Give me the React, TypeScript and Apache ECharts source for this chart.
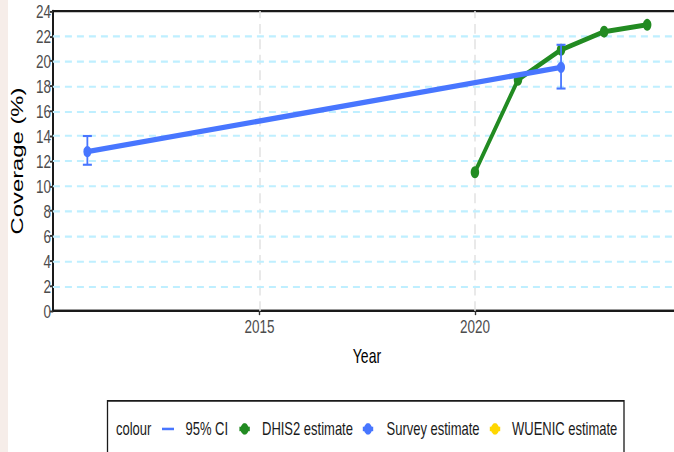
import React, { useEffect, useRef } from "react";
import * as echarts from "echarts";

// ---- data ----
const surveyYears = [2011, 2022];
const surveyValues = [12.75, 19.5];
const surveyLow = [11.7, 17.8];
const surveyHigh = [14.0, 21.3];
const dhis2Years = [2020, 2021, 2022, 2023, 2024];
const dhis2Values = [11.1, 18.5, 20.9, 22.35, 22.9];
const xTickLabels = [2015, 2020];
const yGridValues = [2, 4, 6, 8, 10, 12, 14, 16, 18, 20, 22];
const legendLabels = ["95% CI", "DHIS2 estimate", "Survey estimate", "WUENIC estimate"];

const BLUE = "#4876FF";
const GREEN = "#228B22";
const GOLD = "#FFD700";
const FONT = "Liberation Sans, Arial, sans-serif";
const SY = 1.4; // vertical stretch of the reference picture
const W = 674;
const CW = 720; // chart canvas wider than the page so the plot runs past the right edge
const H = 323;
const GRID_W = 629;

export default function App() {
  const ref = useRef<HTMLDivElement>(null);
  useEffect(() => {
    if (!ref.current) return;
    const chart = echarts.init(ref.current, null, { renderer: "svg", width: CW, height: H });

    const legendY = 306.4;
    const plusIcon = (cx: number, color: string) => [
      { type: "circle", shape: { cx, cy: legendY, r: 4 }, style: { fill: color } },
      { type: "line", shape: { x1: cx - 5.2, y1: legendY, x2: cx + 5.2, y2: legendY }, style: { stroke: color, lineWidth: 3.2 } },
      { type: "line", shape: { x1: cx, y1: legendY - 3.8, x2: cx, y2: legendY + 3.8 }, style: { stroke: color, lineWidth: 3.4 } },
    ];
    const legText = (x: number, t: string) => ({
      type: "text",
      x,
      y: legendY,
      style: { text: t, fill: "#1a1a1a", font: `13px ${FONT}`, verticalAlign: "middle", align: "left" },
    });

    chart.setOption({
      animation: false,
      backgroundColor: "#ffffff",
      grid: {
        left: 52,
        top: 7.9,
        width: GRID_W,
        height: 214.2,
        show: true,
        borderColor: "#1a1a1a",
        borderWidth: 1.6,
        backgroundColor: "transparent",
      },
      xAxis: {
        type: "value",
        min: 2010.2,
        max: 2010.2 + GRID_W / 43.125,
        name: "Year",
        nameLocation: "middle",
        nameGap: 25.5,
        nameTextStyle: { fontFamily: FONT, fontSize: 14, color: "#000" },
        axisLine: { show: true, lineStyle: { color: "#1a1a1a", width: 1.6 } },
        axisTick: { show: true, length: 3, customValues: xTickLabels, lineStyle: { color: "#333", width: 1.4 } },
        axisLabel: {
          customValues: xTickLabels,
          fontFamily: FONT,
          fontSize: 13.5,
          color: "#4d4d4d",
          margin: 4,
          formatter: (v: number) => String(v),
        },
        splitLine: { show: false },
      },
      yAxis: {
        type: "value",
        min: 0,
        max: 24,
        interval: 2,
        name: "Coverage (%)",
        nameLocation: "middle",
        nameRotate: 90,
        nameGap: 26,
        nameTextStyle: { fontFamily: FONT, fontSize: 17, color: "#000" },
        axisLine: { show: true, lineStyle: { color: "#1a1a1a", width: 2 } },
        axisTick: { show: true, length: 3, lineStyle: { color: "#333", width: 1.4 } },
        axisLabel: { fontFamily: FONT, fontSize: 13.5, color: "#4d4d4d", margin: 2 },
        splitLine: { show: false },
      },
      series: [
        {
          type: "line",
          data: [],
          z: 1,
          silent: true,
          markLine: {
            silent: true,
            z: 1,
            symbol: ["none", "none"],
            label: { show: false },
            emphasis: { disabled: true },
            data: [
              ...xTickLabels.map((v) => ({
                xAxis: v,
                lineStyle: { color: "#e2e2e2", width: 1.5, type: [7, 4] },
              })),
              ...yGridValues.map((v) => ({
                yAxis: v,
                lineStyle: { color: "#BFEFFF", width: 1.5, type: [7, 5] },
              })),
            ],
          },
        },
        {
          name: "DHIS2 estimate",
          type: "line",
          z: 3,
          data: dhis2Years.map((y, i) => [y, dhis2Values[i]]),
          symbol: "circle",
          symbolSize: 8.5,
          itemStyle: { color: GREEN },
          lineStyle: { color: GREEN, width: 3.6 },
        },
        {
          name: "Survey estimate",
          type: "line",
          z: 4,
          data: surveyYears.map((y, i) => [y, surveyValues[i]]),
          symbol: "circle",
          symbolSize: 8,
          itemStyle: { color: BLUE },
          lineStyle: { color: BLUE, width: 3.8 },
        },
        {
          name: "95% CI",
          type: "custom",
          z: 5,
          data: surveyYears.map((y, i) => [y, surveyLow[i], surveyHigh[i]]),
          renderItem: (params: any, api: any) => {
            const x = api.value(0);
            const lo = api.coord([x, api.value(1)]);
            const hi = api.coord([x, api.value(2)]);
            const hw = 4.5;
            return {
              type: "group",
              children: [
                { type: "line", shape: { x1: lo[0], y1: lo[1], x2: hi[0], y2: hi[1] }, style: { stroke: BLUE, lineWidth: 1.8 } },
                { type: "line", shape: { x1: lo[0] - hw, y1: lo[1], x2: lo[0] + hw, y2: lo[1] }, style: { stroke: BLUE, lineWidth: 1.5 } },
                { type: "line", shape: { x1: hi[0] - hw, y1: hi[1], x2: hi[0] + hw, y2: hi[1] }, style: { stroke: BLUE, lineWidth: 1.5 } },
              ],
            };
          },
        },
      ],
      graphic: [
        { type: "rect", shape: { x: 0, y: 0, width: 8, height: H }, style: { fill: "#f6ede9" }, silent: true, z: -10 },
        {
          type: "rect",
          shape: { x: 107.5, y: 286.4, width: 516.5, height: 60 },
          style: { fill: "#fff", stroke: "#1a1a1a", lineWidth: 1.3 },
          silent: true,
        },
        legText(116, "colour"),
        { type: "line", shape: { x1: 162, y1: legendY, x2: 174, y2: legendY }, style: { stroke: BLUE, lineWidth: 1.8 } },
        legText(185.5, legendLabels[0]),
        ...plusIcon(244.6, GREEN),
        legText(262, legendLabels[1]),
        ...plusIcon(368, BLUE),
        legText(386.5, legendLabels[2]),
        ...plusIcon(495, GOLD),
        legText(512, legendLabels[3]),
      ],
    });
    return () => chart.dispose();
  }, []);

  return (
    <div
      style={{
        position: "fixed",
        left: 0,
        top: 0,
        width: W,
        height: 452,
        overflow: "hidden",
        background: "#fff",
      }}
    >
      <div
        ref={ref}
        style={{ width: CW, height: H, transform: `scale(1, ${SY})`, transformOrigin: "0 0" }}
      />
    </div>
  );
}
